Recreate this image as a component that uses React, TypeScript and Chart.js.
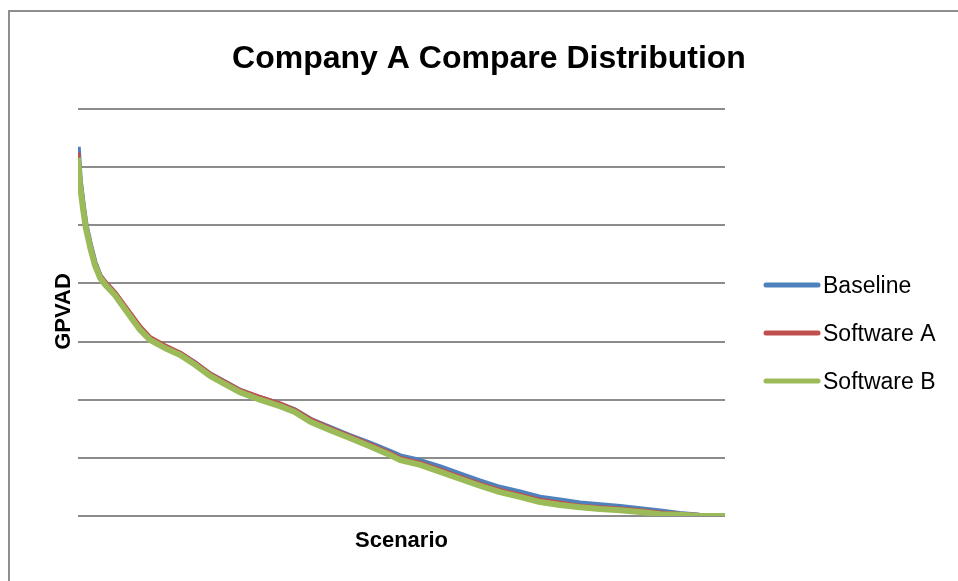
import React, { useEffect, useRef } from "react";
import { Chart, registerables } from "chart.js";

Chart.register(...registerables);

// Scenario index (sorted by result, 1000 scenarios)
const scenarios = [0, 3, 8, 12, 19, 26, 34, 42, 57, 73, 96, 111, 134, 158, 181, 204, 227, 250, 281, 312, 335, 359, 389, 420, 451, 482, 498, 529, 560, 590, 621, 652, 683, 714, 745, 776, 807, 838, 869, 900, 930, 961, 1000];

const baseline = [6.35, 5.78, 5.33, 5.01, 4.66, 4.36, 4.13, 4.01, 3.83, 3.57, 3.22, 3.05, 2.91, 2.79, 2.63, 2.44, 2.30, 2.16, 2.03, 1.92, 1.82, 1.66, 1.52, 1.38, 1.25, 1.11, 1.03, 0.95, 0.84, 0.72, 0.60, 0.49, 0.41, 0.32, 0.27, 0.22, 0.19, 0.16, 0.12, 0.08, 0.04, 0.01, 0.0];
const softwareA = [6.25, 5.74, 5.30, 4.98, 4.64, 4.35, 4.13, 4.02, 3.84, 3.60, 3.25, 3.07, 2.93, 2.80, 2.63, 2.44, 2.30, 2.16, 2.04, 1.93, 1.82, 1.66, 1.51, 1.37, 1.23, 1.08, 0.99, 0.91, 0.79, 0.67, 0.55, 0.44, 0.36, 0.27, 0.22, 0.17, 0.14, 0.12, 0.09, 0.05, 0.03, 0.01, 0.0];
const softwareB = [6.16, 5.70, 5.27, 4.96, 4.61, 4.32, 4.10, 3.98, 3.80, 3.55, 3.20, 3.03, 2.89, 2.77, 2.60, 2.41, 2.27, 2.13, 2.00, 1.89, 1.79, 1.62, 1.48, 1.34, 1.20, 1.05, 0.96, 0.88, 0.76, 0.64, 0.52, 0.41, 0.33, 0.24, 0.19, 0.15, 0.12, 0.10, 0.07, 0.03, 0.02, 0.0, 0.0];

const seriesNames = ["Baseline", "Software A", "Software B"];
const seriesColors = ["#4f81bd", "#c0504d", "#9bbb59"];
const seriesWidths = [5.5, 5, 6];

const chartTitle = "Company A Compare Distribution";
const xTitle = "Scenario";
const yTitle = "GPVAD";

const FONT = "'Liberation Sans', Arial, sans-serif";

// Frame, titles and legend drawn on the canvas
const decorations = {
  id: "decorations",
  beforeDraw(chart: Chart) {
    const { ctx } = chart;
    ctx.save();
    ctx.fillStyle = "#ffffff";
    ctx.fillRect(0, 0, chart.width, chart.height);
    ctx.strokeStyle = "#8e8e8e";
    ctx.lineWidth = 2;
    ctx.strokeRect(9, 11, chart.width + 20, chart.height + 20);
    ctx.restore();
  },
  afterDraw(chart: Chart) {
    const { ctx, chartArea } = chart;
    ctx.save();
    ctx.fillStyle = "#000000";
    ctx.textBaseline = "alphabetic";

    ctx.font = `bold 32px ${FONT}`;
    ctx.textAlign = "center";
    ctx.fillText(chartTitle, 489, 68);

    ctx.font = `bold 22px ${FONT}`;
    ctx.fillText(xTitle, (chartArea.left + chartArea.right) / 2, 547);

    ctx.save();
    ctx.translate(70, (chartArea.top + chartArea.bottom) / 2 - 1);
    ctx.rotate(-Math.PI / 2);
    ctx.fillText(yTitle, 0, 0);
    ctx.restore();

    // legend
    ctx.font = `23px ${FONT}`;
    ctx.textAlign = "left";
    chart.data.datasets.forEach((ds: any, i: number) => {
      const y = 285 + i * 48;
      ctx.beginPath();
      ctx.strokeStyle = ds.borderColor;
      ctx.lineWidth = 5;
      ctx.lineCap = "round";
      ctx.moveTo(766, y);
      ctx.lineTo(818, y);
      ctx.stroke();
      ctx.fillText(ds.label, 823, y + 8);
    });
    ctx.restore();
  },
};

export default function App() {
  const canvasRef = useRef<HTMLCanvasElement | null>(null);

  useEffect(() => {
    const canvas = canvasRef.current;
    if (!canvas) return;
    const seriesValues = [baseline, softwareA, softwareB];
    const chart = new Chart(canvas, {
      type: "line",
      data: {
        datasets: seriesNames.map((name, i) => ({
          label: name,
          data: scenarios.map((s, j) => ({ x: s, y: seriesValues[i][j] })),
          borderColor: seriesColors[i],
          backgroundColor: seriesColors[i],
          borderWidth: seriesWidths[i],
          borderJoinStyle: "round" as const,
          pointRadius: 0,
          tension: 0,
          fill: false,
          order: 3 - i,
        })),
      },
      options: {
        responsive: false,
        animation: false,
        events: [],
        layout: { padding: { left: 78, top: 109, right: 233, bottom: 65 } },
        plugins: {
          legend: { display: false },
          title: { display: false },
          tooltip: { enabled: false },
        },
        scales: {
          x: { type: "linear", min: 0, max: 1000, display: false },
          y: {
            min: 0,
            max: 7,
            ticks: { display: false, stepSize: 1 },
            grid: { color: "#8c8c8c", lineWidth: 2, drawTicks: false },
            border: { display: false },
          },
        },
      },
      plugins: [decorations],
    });
    return () => chart.destroy();
  }, []);

  return (
    <div style={{ position: "fixed", left: 0, top: 0, width: 958, height: 581, overflow: "hidden", background: "#fff" }}>
      <canvas ref={canvasRef} width={958} height={581} style={{ display: "block", width: 958, height: 581 }} />
    </div>
  );
}
